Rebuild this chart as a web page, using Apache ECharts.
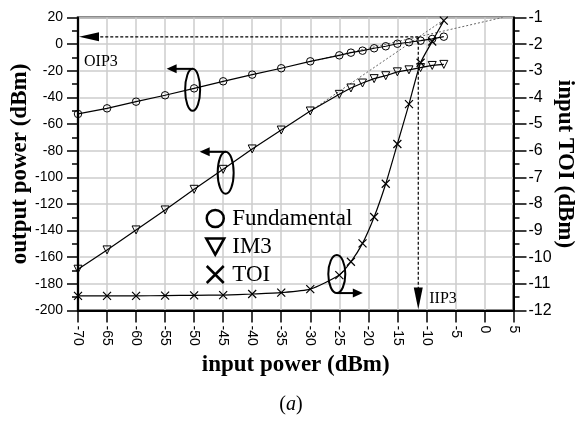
<!DOCTYPE html>
<html><head><meta charset="utf-8">
<script src="https://cdn.jsdelivr.net/npm/echarts@6/dist/echarts.min.js"></script>
<style>html,body{margin:0;padding:0;background:#fff}#c{width:582px;height:423px}</style>
</head><body><div id="c"></div>
<script>
// ---- data ----
const inputPower = [-70,-65,-60,-55,-50,-45,-40,-35,-30,-25,-23,-21,-19,-17,-15,-13,-11,-9,-7];
const fundamental = [-52.4,-48.2,-43.2,-38.4,-33.2,-27.9,-22.9,-18.1,-12.9,-8.4,-6.4,-4.9,-3.1,-1.6,0.3,1.4,2.6,3.9,5.6];
const im3 = [-169,-154.5,-139.5,-124.5,-109,-94,-78.7,-64.5,-50.2,-37.7,-32.9,-29.2,-25.9,-23.7,-20.8,-19.3,-17.6,-16.0,-15.2];
const toi = [-11.45,-11.45,-11.45,-11.44,-11.43,-11.42,-11.38,-11.33,-11.2,-10.67,-10.17,-9.48,-8.49,-7.24,-5.75,-4.25,-2.7,-1.9,-1.12];
const fundExtrapX = [-30, 3.1];
const fundExtrapY = [-13.1, 20];
const im3ExtrapX = [-30, -6.4];
const im3ExtrapY = [-50.3, 20];
const IIP3 = -11.4;
const OIP3 = 5.5;
const legendNames = ['Fundamental','IM3','TOI'];

const pair = (xs, ys) => xs.map((x,i)=>[x, ys[i]]);
const serif = 'Liberation Serif';
const sans = 'Liberation Sans';
const X_PATH = 'path://M0,0L10,10M10,0L0,10';
const TRI_DOWN = 'path://M0,0L10,0L5,9Z';

const chart = echarts.init(document.getElementById('c'), null, {renderer:'canvas'});
const option = {
  animation: false,
  backgroundColor: '#fff',
  grid: {left:78, right:68.5, top:17.5, bottom:112.5, containLabel:false, outerBoundsMode:'none',
         show:true, borderColor:'#666', borderWidth:2.5, backgroundColor:'transparent'},
  legend: {
    data: [
      {name:legendNames[0], icon:'circle'},
      {name:legendNames[1], icon:TRI_DOWN},
      {name:legendNames[2], icon:X_PATH}
    ],
    orient:'vertical', left:200, top:202, itemWidth:18, itemHeight:17, itemGap:5,
    itemStyle:{color:'transparent', borderColor:'#000', borderWidth:2.5},
    textStyle:{fontFamily:serif, fontSize:23, color:'#000', lineHeight:23, padding:[0,0,0,3]}
  },
  xAxis: {
    type:'value', min:-70, max:5, interval:5,
    axisLine:{show:true, onZero:false, lineStyle:{color:'#000', width:2}},
    axisTick:{show:true, length:12, lineStyle:{color:'#000', width:1.5}},
    axisLabel:{rotate:-90, margin:15, fontFamily:sans, fontSize:14, color:'#000'},
    splitLine:{show:true, lineStyle:{color:'#cdcdcd', width:1.5}},
    name:'input power (dBm)', nameLocation:'middle', nameGap:42,
    nameTextStyle:{fontFamily:serif, fontWeight:'bold', fontSize:23, color:'#000'}
  },
  yAxis: [
    {
      type:'value', min:-200, max:20, interval:20, position:'left',
      axisLine:{show:true, onZero:false, lineStyle:{color:'#000', width:2}},
      axisTick:{show:true, length:11, lineStyle:{color:'#000', width:1.5}},
      minorTick:{show:true, splitNumber:2, length:6, lineStyle:{color:'#000', width:1.5}},
      axisLabel:{margin:15, fontFamily:sans, fontSize:14, color:'#000'},
      splitLine:{show:true, lineStyle:{color:'#cdcdcd', width:1.5}},
      name:'output power (dBm)', nameLocation:'middle', nameGap:46.5, nameMoveOverlap:false,
      nameTextStyle:{fontFamily:serif, fontWeight:'bold', fontSize:23, color:'#000'}
    },
    {
      type:'value', min:-12, max:-1, interval:1, position:'right',
      axisLine:{show:true, onZero:false, lineStyle:{color:'#000', width:2}},
      axisTick:{show:true, length:13, lineStyle:{color:'#000', width:1.5}},
      minorTick:{show:true, splitNumber:2, length:6, lineStyle:{color:'#000', width:1.5}},
      axisLabel:{margin:15, fontFamily:sans, fontSize:16, color:'#000'},
      splitLine:{show:false},
      name:'input TOI (dBm)', nameLocation:'middle', nameGap:40, nameRotate:-90, nameMoveOverlap:false,
      nameTextStyle:{fontFamily:serif, fontWeight:'bold', fontSize:23, color:'#000'}
    }
  ],
  series: [
    {name:'Fundamental', type:'line', yAxisIndex:0, data:pair(inputPower, fundamental),
     symbol:'circle', symbolSize:7.5, lineStyle:{color:'#000', width:1.2},
     itemStyle:{color:'transparent', borderColor:'#000', borderWidth:1}, z:5},
    {name:'IM3', type:'line', yAxisIndex:0, data:pair(inputPower, im3),
     symbol:'triangle', symbolRotate:180, symbolSize:8, lineStyle:{color:'#000', width:1.2},
     itemStyle:{color:'transparent', borderColor:'#000', borderWidth:1}, z:5},
    {name:'TOI', type:'line', yAxisIndex:1, data:pair(inputPower, toi), smooth:0.2,
     symbol:X_PATH, symbolSize:8, lineStyle:{color:'#000', width:1.2},
     itemStyle:{color:'transparent', borderColor:'#000', borderWidth:1.2}, z:5},
    {name:'fundExtrap', type:'line', yAxisIndex:0, data:pair(fundExtrapX, fundExtrapY), symbol:'none',
     lineStyle:{color:'#666', width:1, type:[2,2]}, z:3},
    {name:'im3Extrap', type:'line', yAxisIndex:0, data:pair(im3ExtrapX, im3ExtrapY), symbol:'none',
     lineStyle:{color:'#666', width:1, type:[2,2]}, z:3}
  ]
};
chart.setOption(option);

// ---- annotations computed through the axes ----
const pL = (x,y)=>chart.convertToPixel({seriesIndex:0},[x,y]);
const pR = (x,y)=>chart.convertToPixel({seriesIndex:2},[x,y]);
const ip = pL(IIP3, OIP3);
const leftX = pL(-70, 0)[0];
const bottomY = pL(0, -200)[1];
const g = [];
// OIP3
g.push({type:'line', shape:{x1:ip[0], y1:ip[1], x2:leftX+20, y2:ip[1]}, style:{stroke:'#000', lineWidth:1.2, lineDash:[3,2]}, z:10});
g.push({type:'polygon', shape:{points:[[leftX+1,ip[1]],[leftX+21,ip[1]-4.5],[leftX+21,ip[1]+4.5]]}, style:{fill:'#000'}, z:10});
g.push({type:'text', x:leftX+6, y:ip[1]+25, style:{text:'OIP3', font:'16px "Liberation Serif"', fill:'#000', textVerticalAlign:'middle'}, z:10});
// IIP3
g.push({type:'line', shape:{x1:ip[0], y1:ip[1], x2:ip[0], y2:bottomY-22}, style:{stroke:'#000', lineWidth:1.2, lineDash:[3,2]}, z:10});
g.push({type:'polygon', shape:{points:[[ip[0],bottomY-1],[ip[0]-4.5,bottomY-23],[ip[0]+4.5,bottomY-23]]}, style:{fill:'#000'}, z:10});
g.push({type:'text', x:ip[0]+11, y:bottomY-12, style:{text:'IIP3', font:'16px "Liberation Serif"', fill:'#000', textVerticalAlign:'middle'}, z:10});

function ring(c, rx, ry, dir, atTop, len){
  const ay = atTop ? c[1]-ry : c[1]+ry;
  g.push({type:'ellipse', shape:{cx:c[0], cy:c[1], rx:rx, ry:ry}, style:{fill:'none', stroke:'#000', lineWidth:2}, z:10});
  const tip = c[0] + dir*len;
  g.push({type:'line', shape:{x1:c[0], y1:ay, x2:tip - dir*8, y2:ay}, style:{stroke:'#000', lineWidth:2}, z:10});
  g.push({type:'polygon', shape:{points:[[tip,ay],[tip-dir*10,ay-4.5],[tip-dir*10,ay+4.5]]}, style:{fill:'#000'}, z:10});
}
const fc = pL(-50, fundamental[4]);
ring([fc[0]-1.5, fc[1]+1.5], 7.5, 21, -1, true, 26);
const ic = pL(-45, im3[5]);
ring([ic[0]+2.5, ic[1]+3.5], 8, 21, -1, true, 26);
const tc = pR(-25, toi[9]);
ring([tc[0]-2.5, tc[1]-1], 8.5, 19, 1, false, 26);

// caption
g.push({type:'text', x:291, y:405, style:{
  text:'{n|(}{i|a}{n|)}', textAlign:'center', textVerticalAlign:'middle',
  rich:{n:{fontFamily:serif, fontSize:20, fill:'#000'}, i:{fontFamily:serif, fontSize:20, fontStyle:'italic', fill:'#000'}}
}});
chart.setOption({graphic:g});
</script>
</body></html>
